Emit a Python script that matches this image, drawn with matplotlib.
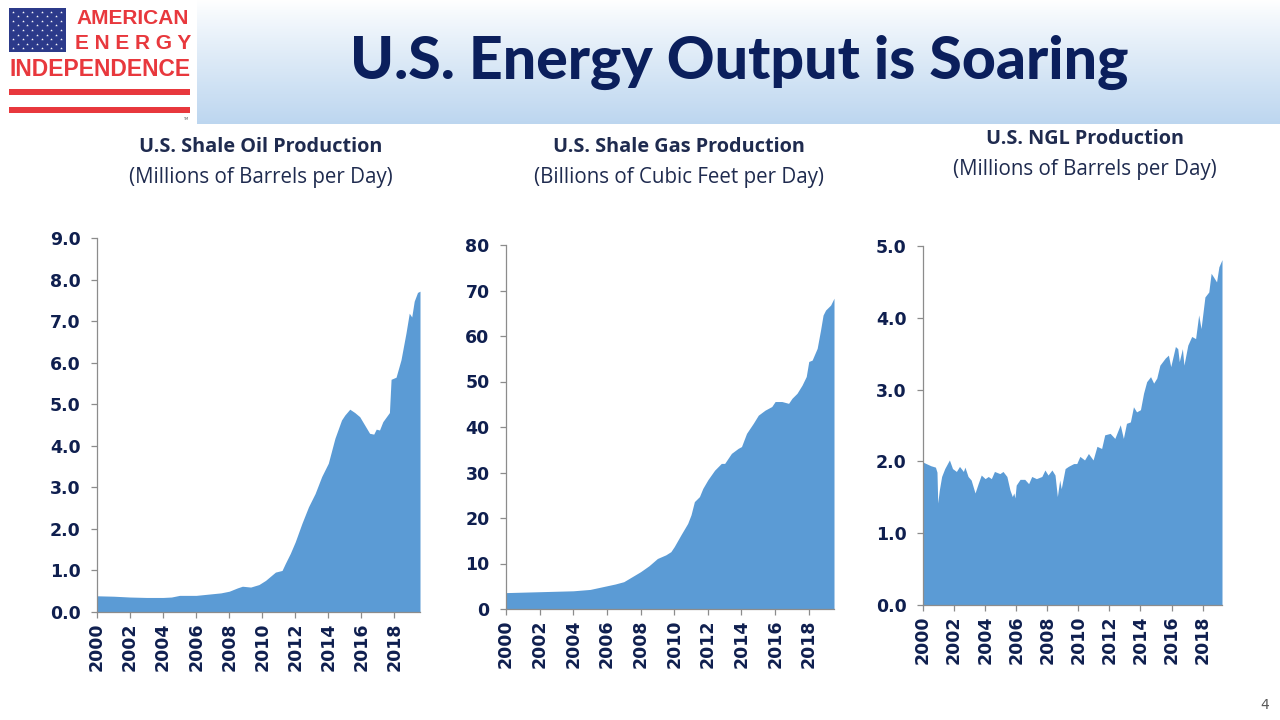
#!/usr/bin/env python3
"""U.S. energy output slide: shale oil, shale gas and NGL production, 2000-2019."""

import matplotlib
matplotlib.use("Agg")
import matplotlib.pyplot as plt
import numpy as np
from matplotlib.patches import Rectangle

# ---- data ----
oil_years = [2000.0, 2001.0, 2002.0, 2003.0, 2004.0, 2004.5, 2005.0, 2006.0, 2007.0, 2007.5,
             2008.0, 2008.5, 2008.8, 2009.3, 2009.8, 2010.2, 2010.5, 2010.8, 2011.2, 2011.4,
             2011.7, 2012.0, 2012.4, 2012.8, 2013.2, 2013.6, 2014.0, 2014.4, 2014.8, 2015.0,
             2015.3, 2015.6, 2015.9, 2016.2, 2016.5, 2016.75, 2016.9, 2017.1, 2017.3, 2017.7,
             2017.8, 2018.1, 2018.4, 2018.7, 2018.9, 2019.05, 2019.2, 2019.4, 2019.55]
oil_values = [0.39, 0.38, 0.36, 0.35, 0.35, 0.36, 0.40, 0.40, 0.44, 0.46,
              0.50, 0.58, 0.62, 0.60, 0.66, 0.76, 0.86, 0.96, 1.00, 1.17,
              1.41, 1.69, 2.13, 2.53, 2.85, 3.26, 3.58, 4.18, 4.62, 4.74,
              4.88, 4.80, 4.70, 4.50, 4.30, 4.28, 4.40, 4.38, 4.58, 4.80,
              5.60, 5.65, 6.07, 6.71, 7.19, 7.10, 7.48, 7.69, 7.72]

gas_years = [2000.0, 2001.0, 2002.0, 2003.0, 2004.0, 2005.0, 2006.0, 2006.5, 2007.0, 2007.5,
             2008.0, 2008.5, 2009.0, 2009.5, 2009.8, 2010.0, 2010.4, 2010.8, 2011.0, 2011.2,
             2011.5, 2011.7, 2012.0, 2012.4, 2012.8, 2013.0, 2013.4, 2013.8, 2014.0, 2014.3,
             2014.7, 2015.0, 2015.4, 2015.8, 2016.0, 2016.4, 2016.8, 2017.0, 2017.3, 2017.6,
             2017.85, 2018.0, 2018.2, 2018.5, 2018.7, 2018.85, 2019.0, 2019.3, 2019.5]
gas_values = [3.6, 3.7, 3.8, 3.9, 4.0, 4.3, 5.1, 5.5, 6.0, 7.1,
              8.2, 9.5, 11.1, 11.9, 12.6, 13.7, 16.3, 18.8, 20.7, 23.6,
              24.7, 26.5, 28.4, 30.5, 32.0, 32.0, 34.2, 35.3, 35.7, 38.6,
              40.8, 42.6, 43.7, 44.5, 45.6, 45.6, 45.2, 46.3, 47.4, 49.2,
              51.1, 54.4, 54.7, 57.3, 61.3, 64.6, 65.7, 66.8, 68.3]

ngl_years = [2000.0, 2000.2, 2000.5, 2000.8, 2000.9, 2000.95, 2001.05, 2001.2, 2001.4, 2001.7,
             2001.9, 2002.15, 2002.35, 2002.6, 2002.7, 2002.9, 2003.1, 2003.35, 2003.55, 2003.75,
             2004.0, 2004.2, 2004.4, 2004.6, 2004.95, 2005.15, 2005.4, 2005.6, 2005.75, 2005.85,
             2005.92, 2006.0, 2006.25, 2006.55, 2006.8, 2007.0, 2007.3, 2007.65, 2007.85, 2008.05,
             2008.3, 2008.5, 2008.65, 2008.8, 2008.9, 2009.15, 2009.35, 2009.7, 2009.9, 2010.1,
             2010.4, 2010.65, 2010.95, 2011.2, 2011.5, 2011.7, 2012.05, 2012.35, 2012.7, 2012.9,
             2013.1, 2013.35, 2013.55, 2013.75, 2014.0, 2014.2, 2014.4, 2014.65, 2014.85, 2015.05,
             2015.25, 2015.6, 2015.8, 2015.95, 2016.25, 2016.4, 2016.5, 2016.7, 2016.8, 2017.05,
             2017.3, 2017.55, 2017.75, 2017.9, 2018.15, 2018.4, 2018.55, 2018.7, 2018.9, 2019.05,
             2019.25]
ngl_values = [1.99, 1.97, 1.94, 1.92, 1.85, 1.42, 1.60, 1.79, 1.90, 2.02,
              1.90, 1.86, 1.93, 1.86, 1.92, 1.79, 1.74, 1.56, 1.69, 1.81,
              1.76, 1.79, 1.76, 1.86, 1.83, 1.86, 1.79, 1.60, 1.51, 1.56,
              1.49, 1.67, 1.75, 1.75, 1.69, 1.79, 1.76, 1.79, 1.88, 1.81,
              1.88, 1.81, 1.51, 1.74, 1.62, 1.90, 1.93, 1.97, 1.97, 2.07,
              2.02, 2.11, 2.02, 2.21, 2.18, 2.37, 2.39, 2.32, 2.51, 2.32,
              2.53, 2.55, 2.76, 2.69, 2.72, 2.95, 3.11, 3.18, 3.09, 3.16,
              3.34, 3.44, 3.48, 3.32, 3.60, 3.57, 3.39, 3.57, 3.34, 3.62,
              3.74, 3.71, 4.04, 3.85, 4.29, 4.36, 4.62, 4.57, 4.50, 4.71,
              4.81]

year_ticks = list(range(2000, 2019, 2))
oil_ticks = [0, 1, 2, 3, 4, 5, 6, 7, 8, 9]
gas_ticks = [0, 10, 20, 30, 40, 50, 60, 70, 80]
ngl_ticks = [0, 1, 2, 3, 4, 5]

panel_titles = ["U.S. Shale Oil Production", "U.S. Shale Gas Production", "U.S. NGL Production"]
panel_units = ["(Millions of Barrels per Day)", "(Billions of Cubic Feet per Day)",
               "(Millions of Barrels per Day)"]

NAVY = "#0f1f4f"
FILL = "#5b9bd5"
RED = "#e8383d"


def draw_panel(fig, rect, years, values, yticks, fmt):
    ax = fig.add_axes(rect)
    ax.fill_between(years, values, 0, color=FILL, linewidth=0)
    ax.set_xlim(years[0], years[-1])
    ax.set_ylim(yticks[0], yticks[-1])
    ax.set_xticks(year_ticks)
    ax.set_xticklabels([str(y) for y in year_ticks], rotation=90)
    ax.set_yticks(yticks)
    ax.set_yticklabels([fmt.format(v) for v in yticks])
    for side in ("top", "right"):
        ax.spines[side].set_visible(False)
    for side in ("left", "bottom"):
        ax.spines[side].set_color("#8c8c8c")
        ax.spines[side].set_linewidth(0.9)
    ax.tick_params(axis="both", colors="#8c8c8c", length=4.3, width=0.9, labelsize=12.5,
                   labelcolor=NAVY)
    ax.tick_params(axis="x", pad=3.5)
    ax.tick_params(axis="y", pad=7.5)
    for lab in ax.get_xticklabels() + ax.get_yticklabels():
        lab.set_fontweight("bold")
    ax.set_facecolor("none")
    return ax


fig = plt.figure(figsize=(12.8, 7.2), dpi=100)

# background layer in pixel coordinates
bg = fig.add_axes([0, 0, 1, 1], zorder=-1)
bg.set_xlim(0, 1280)
bg.set_ylim(720, 0)
bg.axis("off")

grad = np.linspace(0, 1, 200)[:, None]
top = np.array([1.0, 1.0, 1.0])
bottom = np.array([0.74, 0.84, 0.94])
img = top + (bottom - top) * grad[..., None] ** 0.9
img = np.repeat(img, 2, axis=1)
bg.imshow(img, extent=[0, 1280, 124, 0], aspect="auto", interpolation="bilinear")

# logo
bg.add_patch(Rectangle((0, 0), 197, 124, facecolor="white", edgecolor="none"))
bg.add_patch(Rectangle((9, 8), 57, 44, facecolor="#2c3a8a", edgecolor="none"))
sx, sy = [], []
for r in range(9):
    for c in range(6 if r % 2 == 0 else 5):
        sx.append(13 + c * 9.6 + (0 if r % 2 == 0 else 4.8))
        sy.append(11.5 + r * 4.6)
bg.scatter(sx, sy, s=4, color="white", marker="*", linewidths=0)
bg.text(133, 18.5, "AMERICAN", color=RED, fontsize=15, fontweight="bold",
        family="Liberation Sans", ha="center", va="center")
bg.text(133, 43.5, "E N E R G Y", color=RED, fontsize=15, fontweight="bold",
        family="Liberation Sans", ha="center", va="center")
bg.text(100, 70, "INDEPENDENCE", color=RED, fontsize=16.5, fontweight="bold",
        family="Liberation Sans", ha="center", va="center")
bg.add_patch(Rectangle((9, 89), 181, 6, facecolor=RED, edgecolor="none"))
bg.add_patch(Rectangle((9, 107), 181, 6, facecolor=RED, edgecolor="none"))
bg.text(186, 119, "TM", color="#555555", fontsize=2.5, ha="center", va="center")

# slide title
bg.text(739, 62, "U.S. Energy Output is Soaring", color="#0b1f5c", fontsize=42.5,
        fontweight="black", family="Lato", ha="center", va="center")

# panel headings
head_x = [261, 679, 1085]
head_y = [147, 147, 139]
for hx, hy, t, u in zip(head_x, head_y, panel_titles, panel_units):
    bg.text(hx, hy, t, color="#1f2b4f", fontsize=14.3, fontweight="bold", family="Open Sans",
            ha="center", va="center")
    bg.text(hx, hy + 30, u, color="#1f2b4f", fontsize=14.8, family="Open Sans",
            ha="center", va="center")

bg.text(1265, 705, "4", color="#595959", fontsize=10, ha="center", va="center")

draw_panel(fig, [97 / 1280, 108 / 720, 323 / 1280, 374 / 720], oil_years, oil_values,
           oil_ticks, "{:.1f}")
draw_panel(fig, [506 / 1280, 111 / 720, 328 / 1280, 364 / 720], gas_years, gas_values,
           gas_ticks, "{:d}")
draw_panel(fig, [923 / 1280, 115 / 720, 299 / 1280, 359 / 720], ngl_years, ngl_values,
           ngl_ticks, "{:.1f}")

fig.savefig("out.png", dpi=100)
